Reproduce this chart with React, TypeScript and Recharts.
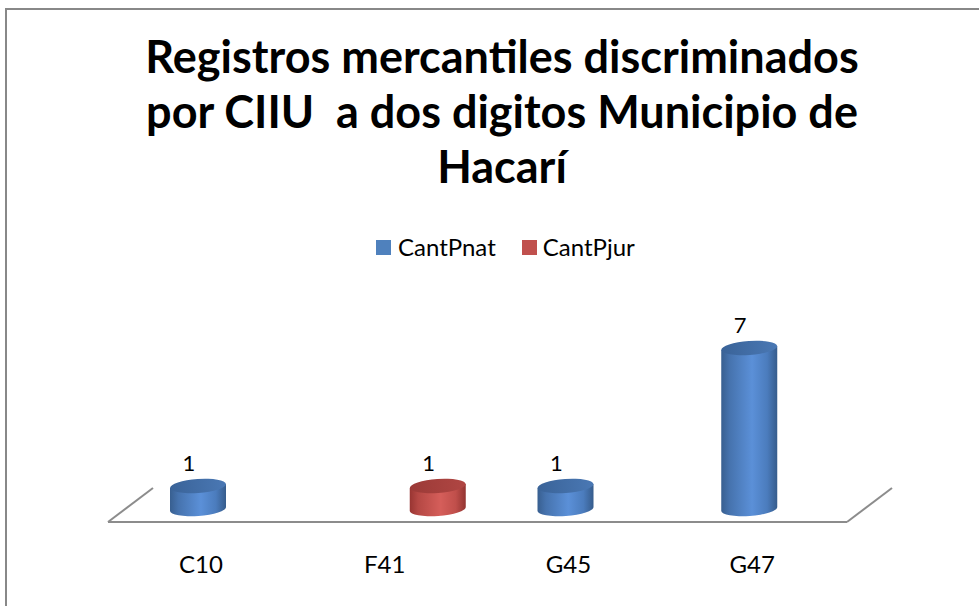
import React from 'react';
import * as R from 'recharts';
import { BarChart, Bar, XAxis, YAxis, LabelList } from 'recharts';

const categories = ['C10', 'F41', 'G45', 'G47'];
const cantPnat: (number | null)[] = [1, null, 1, 7];
const cantPjur: (number | null)[] = [null, 1, null, null];
const seriesNames = ['CantPnat', 'CantPjur'];
const titleLines = ['Registros mercantiles discriminados', 'por CIIU  a dos digitos Municipio de', 'Hacarí'];

const data = categories.map((c, i) => ({ cat: c, CantPnat: cantPnat[i], CantPjur: cantPjur[i] }));

const FONT = 'Lato, "Open Sans", sans-serif';
const SHIFT = 25;

const makeCylinder = (kind: 'blue' | 'red') => (props: any) => {
  const { x, y, width, height } = props;
  if (height == null || height <= 0 || isNaN(height)) return null;
  const rx = width / 2;
  const ry = 7;
  const cx = x + rx + SHIFT;
  const top = y;
  const bottom = y + height;
  const rot = -4;
  const t = Math.sin((Math.abs(rot) * Math.PI) / 180) * rx;
  const body = `M ${cx - rx} ${top + t} L ${cx - rx} ${bottom + t} A ${rx} ${ry} ${rot} 0 0 ${cx + rx} ${bottom - t} L ${cx + rx} ${top - t} Z`;
  return (
    <g>
      <path d={body} fill={`url(#grad-${kind})`} />
      <ellipse cx={cx} cy={top} rx={rx} ry={ry} fill={`url(#top-${kind})`} transform={`rotate(${rot} ${cx} ${top})`} />
    </g>
  );
};

const renderLabel = (props: any) => {
  const { x, y, width, value } = props;
  if (value == null) return null;
  const cx = x + width / 2 + SHIFT - 9;
  return (
    <text x={cx} y={y - 15} textAnchor="middle" fontSize={22} fill="#000" fontFamily={FONT}>
      {value}
    </text>
  );
};

const Tick = (props: any) => {
  const { x, y, payload } = props;
  return (
    <text x={x} y={y + 56} textAnchor="middle" fontSize={24} fill="#000" fontFamily={FONT}>
      {payload.value}
    </text>
  );
};

const Floor = () => {
  const usePA = (R as any).usePlotArea;
  const pa = usePA ? usePA() : null;
  if (!pa) return null;
  const y0 = pa.y + pa.height + 13;
  const x0 = pa.x - 1;
  const x1 = pa.x + pa.width + 3;
  const dx = 45;
  const dy = 34;
  return (
    <g stroke="#8c8c8c" strokeWidth={2} fill="none">
      <line x1={x0} y1={y0} x2={x1} y2={y0} />
      <line x1={x0} y1={y0} x2={x0 + dx} y2={y0 - dy} />
      <line x1={x1} y1={y0} x2={x1 + dx} y2={y0 - dy} />
    </g>
  );
};

export default function App() {
  return (
    <div style={{ position: 'absolute', left: 0, top: 0, width: 979, height: 606, overflow: 'hidden', background: '#fff', fontFamily: FONT }}>
      <div style={{ position: 'absolute', left: 5, top: 8, width: 1100, height: 800, border: '2px solid #888', boxSizing: 'border-box' }} />
      <div style={{ position: 'absolute', left: 0, top: 29, width: 1004, textAlign: 'center', fontWeight: 700, fontSize: 45, lineHeight: '55px', color: '#000' }}>
        {titleLines.map((l, i) => (
          <div key={i} style={{ whiteSpace: 'pre' }}>{l}</div>
        ))}
      </div>
      <div style={{ position: 'absolute', left: 376, top: 232, display: 'flex', alignItems: 'center', fontSize: 24, lineHeight: '29px', color: '#000' }}>
        <span style={{ width: 15, height: 15, background: '#4f81bd', display: 'inline-block', marginRight: 7, position: 'relative', top: 1 }} />
        <span style={{ marginRight: 26 }}>{seriesNames[0]}</span>
        <span style={{ width: 15, height: 15, background: '#c0504d', display: 'inline-block', marginRight: 6, position: 'relative', top: 1 }} />
        <span>{seriesNames[1]}</span>
      </div>
      <div style={{ position: 'absolute', left: 0, top: 0 }}>
        <BarChart width={979} height={606} data={data} margin={{ top: 325, bottom: 57, left: 109, right: 135 }} barGap={0} barSize={56}>
          <defs>
            <linearGradient id="grad-blue" x1="0" y1="0" x2="1" y2="0">
              <stop offset="0%" stopColor="#385f90" />
              <stop offset="15%" stopColor="#4673ae" />
              <stop offset="55%" stopColor="#5b90d8" />
              <stop offset="82%" stopColor="#4b7cbd" />
              <stop offset="100%" stopColor="#365c8c" />
            </linearGradient>
            <linearGradient id="top-blue" x1="0" y1="0" x2="1" y2="0">
              <stop offset="0%" stopColor="#3a6398" />
              <stop offset="100%" stopColor="#4a78b4" />
            </linearGradient>
            <linearGradient id="grad-red" x1="0" y1="0" x2="1" y2="0">
              <stop offset="0%" stopColor="#983532" />
              <stop offset="15%" stopColor="#b54844" />
              <stop offset="55%" stopColor="#d55e5a" />
              <stop offset="82%" stopColor="#c04f4b" />
              <stop offset="100%" stopColor="#933431" />
            </linearGradient>
            <linearGradient id="top-red" x1="0" y1="0" x2="1" y2="0">
              <stop offset="0%" stopColor="#9b3a37" />
              <stop offset="100%" stopColor="#b04643" />
            </linearGradient>
          </defs>
          <Floor />
          <XAxis dataKey="cat" axisLine={false} tickLine={false} height={40} tick={<Tick />} interval={0} />
          <YAxis hide domain={[0, 8]} />
          <Bar dataKey="CantPnat" fill="#4f81bd" isAnimationActive={false} shape={makeCylinder('blue')}>
            <LabelList dataKey="CantPnat" content={renderLabel} />
          </Bar>
          <Bar dataKey="CantPjur" fill="#c0504d" isAnimationActive={false} shape={makeCylinder('red')}>
            <LabelList dataKey="CantPjur" content={renderLabel} />
          </Bar>
        </BarChart>
      </div>
    </div>
  );
}
